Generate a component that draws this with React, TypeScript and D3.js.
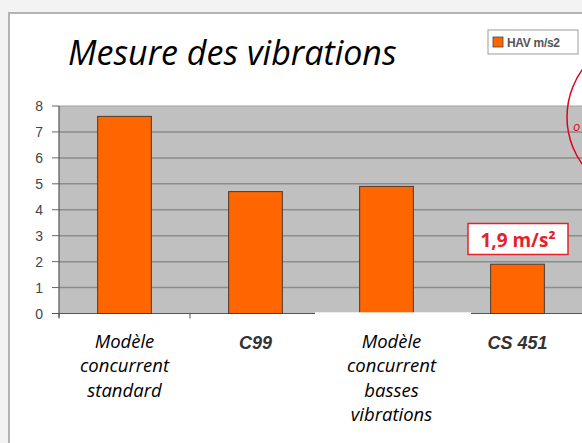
import React from "react";
import * as d3 from "d3";

const CATEGORIES = ["std", "c99", "low", "cs451"];
const VALUES = [7.6, 4.7, 4.9, 1.9];
const Y_TICKS = [0, 1, 2, 3, 4, 5, 6, 7, 8];
const LABEL_LINES = [
  ["Modèle", "concurrent", "standard"],
  ["C99"],
  ["Modèle", "concurrent", "basses", "vibrations"],
  ["CS 451"],
];
const BOLD_LABEL = [false, true, false, true];
const TITLE = "Mesure des vibrations";
const LEGEND = "HAV m/s2";
const CALLOUT = "1,9 m/s²";

const W = 582;
const H = 443;
const PLOT = { left: 59, right: 583, top: 106, bottom: 313.5 };

export default function App() {
  const x = d3
    .scaleBand<string>()
    .domain(CATEGORIES)
    .range([PLOT.left, PLOT.right])
    .paddingInner(0.59)
    .paddingOuter(0.295);
  const y = d3.scaleLinear().domain([0, 8]).range([PLOT.bottom, PLOT.top]);
  const step = x.step();

  return (
    <svg
      width={W}
      height={H}
      style={{ position: "absolute", left: 0, top: 0, display: "block" }}
    >
      {/* background + slide frame */}
      <rect x={0} y={0} width={W} height={H} fill="#f3f3f3" />
      <rect x={9} y={13} width={W + 10} height={H} fill="#fff" stroke="#b4b4b4" strokeWidth={2} />

      <text
        x={68}
        y={65}
        fontFamily="'Open Sans', 'Noto Sans', sans-serif"
        fontStyle="italic"
        fontSize={34}
        fill="#000"
      >
        {TITLE}
      </text>

      {/* legend */}
      <rect x={488} y={30} width={90} height={24} fill="#fff" stroke="#9a9a9a" />
      <rect x={493} y={37} width={10} height={10} fill="#ff6600" stroke="#444" strokeWidth={0.8} />
      <text
        x={507}
        y={47}
        fontFamily="'Liberation Sans', Arial, sans-serif"
        fontWeight="bold"
        fontSize={12}
        letterSpacing={-0.3}
        fill="#555"
      >
        {LEGEND}
      </text>

      {/* plot area */}
      <rect
        x={PLOT.left}
        y={PLOT.top}
        width={PLOT.right - PLOT.left}
        height={PLOT.bottom - PLOT.top}
        fill="#c0c0c0"
      />
      <line x1={PLOT.left} x2={PLOT.right} y1={PLOT.top} y2={PLOT.top} stroke="#a0a0a0" strokeWidth={1} />
      {Y_TICKS.filter((t) => t > 0 && t < 8).map((t) => (
        <line
          key={t}
          x1={PLOT.left}
          x2={PLOT.right}
          y1={y(t)}
          y2={y(t)}
          stroke="#8c8c8c"
          strokeWidth={1.5}
        />
      ))}

      {/* y axis */}
      <line x1={PLOT.left} x2={PLOT.left} y1={PLOT.top} y2={PLOT.bottom + 4} stroke="#555" strokeWidth={1.2} />
      {Y_TICKS.map((t) => (
        <g key={t}>
          <line x1={52} x2={PLOT.left} y1={y(t)} y2={y(t)} stroke="#666" strokeWidth={1} />
          <text
            x={43}
            y={y(t)}
            dy="0.36em"
            textAnchor="end"
            fontFamily="'Liberation Sans', Arial, sans-serif"
            fontSize={14}
            fill="#444"
          >
            {t}
          </text>
        </g>
      ))}

      {/* x axis */}
      <line x1={52} x2={PLOT.right} y1={PLOT.bottom} y2={PLOT.bottom} stroke="#555" strokeWidth={1.2} />
      {CATEGORIES.map((c) => {
        const bx = (x(c) ?? 0) - (step - x.bandwidth()) / 2;
        return (
          <line key={c} x1={bx} x2={bx} y1={PLOT.bottom} y2={PLOT.bottom + 5} stroke="#555" strokeWidth={1} />
        );
      })}

      {/* bars */}
      {CATEGORIES.map((c, i) => (
        <rect
          key={c}
          x={x(c)}
          y={y(VALUES[i])}
          width={x.bandwidth()}
          height={y(0) - y(VALUES[i])}
          fill="#ff6600"
          stroke="#4a3a30"
          strokeWidth={1}
        />
      ))}

      {/* pasted white patch over axis */}
      <rect x={315} y={312.3} width={156} height={H} fill="#fff" />

      {/* category labels */}
      {CATEGORIES.map((c, i) => {
        const cx = (x(c) ?? 0) + x.bandwidth() / 2 + (i === 2 ? 5 : 0);
        return (
          <text
            key={c}
            textAnchor="middle"
            fontFamily={
              BOLD_LABEL[i]
                ? "'Liberation Sans', Arial, sans-serif"
                : "'Open Sans', 'Noto Sans', sans-serif"
            }
            fontStyle="italic"
            fontWeight={BOLD_LABEL[i] ? "bold" : "normal"}
            fontSize={BOLD_LABEL[i] ? 18 : 18.5}
            fill={BOLD_LABEL[i] ? "#333" : "#000"}
          >
            {LABEL_LINES[i].map((l, k) => (
              <tspan key={k} x={cx} y={(BOLD_LABEL[i] ? 349 : 348) + k * 24.3}>
                {l}
              </tspan>
            ))}
          </text>
        );
      })}

      {/* callout */}
      <rect x={468} y={223.5} width={100} height={31} fill="#fff" stroke="#e8202a" strokeWidth={1.5} />
      <text
        x={518}
        y={246.5}
        textAnchor="middle"
        fontFamily="'Open Sans', 'Noto Sans', sans-serif"
        fontWeight="bold"
        fontSize={19}
        fill="#e8202a"
      >
        {CALLOUT}
      </text>

      {/* red hand-drawn circle, mostly off-canvas */}
      <circle cx={648} cy={117} r={81} fill="none" stroke="#e2001a" strokeWidth={1.5} />
      <text
        x={573}
        y={131}
        fontFamily="'Open Sans', sans-serif"
        fontStyle="italic"
        fontSize={13}
        fill="#e2001a"
      >
        o
      </text>
    </svg>
  );
}
